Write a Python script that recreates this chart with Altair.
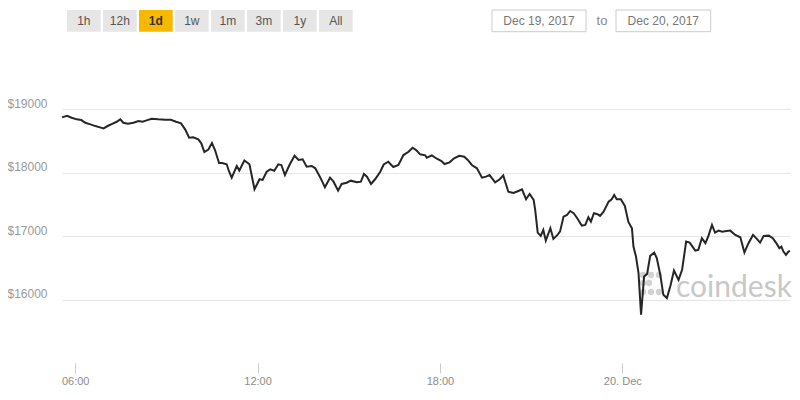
import altair as alt
import pandas as pd

# ---------------- data ----------------
day1 = "2017-12-19T"
day2 = "2017-12-20T"
times_dec19 = [
    "05:34", "05:44", "05:53", "06:03", "06:12", "06:20", "06:30", "06:40", "06:49", "06:56",
    "07:05", "07:12", "07:22", "07:29", "07:35", "07:44", "07:55", "08:05", "08:13", "08:21",
    "08:31", "08:44", "08:58", "09:09", "09:19", "09:29", "09:37", "09:45", "09:53", "10:03",
    "10:09", "10:15", "10:23", "10:30", "10:36", "10:44", "10:50", "10:59", "11:04", "11:09",
    "11:19", "11:24", "11:34", "11:44", "11:54", "12:04", "12:10", "12:18", "12:25", "12:33",
    "12:41", "12:47", "12:54", "13:03", "13:13", "13:21", "13:29", "13:37", "13:47", "13:54",
    "14:04", "14:13", "14:23", "14:30", "14:39", "14:46", "14:56", "15:04", "15:16", "15:24",
    "15:30", "15:36", "15:44", "15:52", "16:02", "16:09", "16:18", "16:28", "16:38", "16:48",
    "16:58", "17:06", "17:13", "17:21", "17:31", "17:34", "17:44", "17:54", "18:03", "18:09",
    "18:19", "18:28", "18:38", "18:48", "18:55", "19:03", "19:13", "19:23", "19:31", "19:38",
    "19:49", "19:58", "20:05", "20:15", "20:25", "20:35", "20:42", "20:50", "20:57", "21:05",
    "21:08", "21:13", "21:19", "21:24", "21:29", "21:38", "21:44", "21:52", "21:57", "22:04",
    "22:11", "22:17", "22:24", "22:31", "22:40", "22:47", "22:53", "22:58", "23:04", "23:11",
    "23:16", "23:23", "23:33", "23:39", "23:44", "23:49", "23:57",
]
prices_dec19 = [
    18874, 18899, 18868, 18843, 18832, 18789, 18764, 18737, 18717, 18701,
    18742, 18769, 18805, 18843, 18789, 18773, 18789, 18816, 18805, 18827,
    18852, 18843, 18836, 18836, 18805, 18780, 18685, 18553, 18559, 18528,
    18465, 18328, 18367, 18469, 18359, 18154, 18154, 18135, 18017, 17923,
    18107, 18036, 18194, 18134, 17740, 17898, 17887, 18017, 18055, 18033,
    18134, 18123, 17965, 18123, 18269, 18202, 18213, 18096, 18107, 18071,
    17923, 17772, 17923, 17860, 17718, 17824, 17844, 17876, 17850, 17860,
    17981, 17939, 17824, 17898, 18013, 18131, 18175, 18091, 18123, 18280,
    18332, 18395, 18359, 18291, 18276, 18238, 18276, 18222, 18186, 18139,
    18165, 18228, 18269, 18254, 18202, 18123, 18071, 17923, 17939, 17965,
    17850, 17898, 17957, 17702, 17682, 17713, 17740, 17583, 17666, 17572,
    17414, 17057, 17005, 17099, 16931, 17126, 16957, 17020, 17072, 17309,
    17335, 17398, 17362, 17283, 17167, 17178, 17299, 17230, 17362, 17346,
    17320, 17387, 17545, 17583, 17650, 17584, 17583,
]
times_dec20 = [
    "00:05", "00:12", "00:19", "00:22", "00:27", "00:32", "00:37", "00:43", "00:49", "00:55",
    "01:03", "01:08", "01:15", "01:21", "01:28", "01:35", "01:42", "01:51", "01:58", "02:06",
    "02:13", "02:24", "02:30", "02:37", "02:44", "02:50", "02:57", "03:03", "03:10", "03:17",
    "03:26", "03:33", "03:43", "03:53", "04:01", "04:09", "04:18", "04:26", "04:32", "04:39",
    "04:49", "04:57", "05:05", "05:10", "05:14", "05:18", "05:23", "05:28", "05:31",
]
prices_dec20 = [
    17477, 17225, 17126, 16836, 16679, 16417, 15761, 16364, 16406, 16690,
    16742, 16654, 16391, 16076, 16024, 16217, 16458, 16312, 16469, 16915,
    16899, 16773, 16784, 16969, 16890, 17005, 17178, 17057, 17088, 17072,
    17083, 17088, 17020, 16984, 16742, 16890, 17020, 16953, 16899, 17005,
    17009, 16969, 16879, 16811, 16836, 16757, 16706, 16757, 16768,
]

x_tick_times = ["2017-12-19T06:00", "2017-12-19T12:00", "2017-12-19T18:00", "2017-12-20T00:00"]
y_tick_values = [16000, 17000, 18000, 19000]
y_domain = [15000, 20000]
range_buttons = ["1h", "12h", "1d", "1w", "1m", "3m", "1y", "All"]
active_button = "1d"
date_from = "Dec 19, 2017"
date_to = "Dec 20, 2017"
date_sep = "to"
watermark_text = "coindesk"

# ---------------- build tables ----------------
times = [day1 + t for t in times_dec19] + [day2 + t for t in times_dec20]
prices = prices_dec19 + prices_dec20
df = pd.DataFrame({"time": times, "price": prices})


def to_dt(s):
    ts = pd.Timestamp(s)
    return alt.DateTime(year=ts.year, month=ts.month, date=ts.day,
                        hours=ts.hour, minutes=ts.minute)


FONT = "Liberation Sans"

x_label_expr = ("hours(datum.value) == 0 && minutes(datum.value) == 0 ? "
                "date(datum.value) + '. ' + timeFormat(datum.value, '%b') : "
                "timeFormat(datum.value, '%H:%M')")

line = alt.Chart(df).mark_line(color="#262626", strokeWidth=2).encode(
    x=alt.X("time:T",
            scale=alt.Scale(domain=[to_dt(times[0]), to_dt(times[-1])], nice=False),
            axis=alt.Axis(title=None, values=[to_dt(t) for t in x_tick_times],
                          labelExpr=x_label_expr, domain=False, grid=False,
                          ticks=True, tickSize=10, tickColor="#cccccc",
                          labelColor="#8c8c8c", labelFontSize=11, labelFont=FONT,
                          labelPadding=2, labelFlush=False, labelOverlap=False)),
    y=alt.Y("price:Q",
            scale=alt.Scale(domain=y_domain, nice=False, zero=False),
            axis=alt.Axis(title=None, values=y_tick_values,
                          labelExpr="'$' + datum.value", grid=True,
                          gridColor="#e6e6e6", gridWidth=1, domain=False,
                          ticks=False, tickSize=0, labelAlign="left",
                          labelBaseline="middle", labelPadding=55, labelOffset=-6,
                          labelFontSize=12, labelColor="#999999", labelFont=FONT)),
)

# ---------------- watermark (decoration) ----------------
wm_color = "#d2d2d2"
icon_dots = pd.DataFrame({"px": [581, 589, 597, 581, 587, 581, 589, 597],
                          "py": [229, 229, 229, 237, 237, 246, 246, 246]})
wm_icon = alt.Chart(icon_dots).mark_circle(color=wm_color, size=40, opacity=1).encode(
    x=alt.X("px:Q", scale=None, axis=None), y=alt.Y("py:Q", scale=None, axis=None))
wm_text = alt.Chart(pd.DataFrame({"t": [watermark_text]})).mark_text(
    font="Lato", fontSize=30, color="#c8c8c8", align="left", baseline="alphabetic"
).encode(x=alt.value(614), y=alt.value(251), text="t:N")

# ---------------- range buttons & date inputs (UI chrome) ----------------
btn_rows = []
for i, lab in enumerate(range_buttons):
    x0 = 5 + 36 * i
    btn_rows.append({"label": lab, "x0": x0, "x1": x0 + 33.7, "xc": x0 + 16.85,
                     "fill": "#f9b800" if lab == active_button else "#e6e6e6",
                     "active": lab == active_button})
btn_df = pd.DataFrame(btn_rows)

btn_rect = alt.Chart(btn_df).mark_rect().encode(
    x=alt.X("x0:Q", scale=None, axis=None), x2="x1:Q",
    y=alt.value(-36), y2=alt.value(-14.3),
    fill=alt.Fill("fill:N", scale=None),
)
btn_text = alt.Chart(btn_df).transform_filter("!datum.active").mark_text(
    font=FONT, fontSize=12, color="#555555", align="center", baseline="middle"
).encode(x=alt.X("xc:Q", scale=None, axis=None), y=alt.value(-25), text="label:N")
btn_text_active = alt.Chart(btn_df).transform_filter("datum.active").mark_text(
    font=FONT, fontSize=12, fontWeight="bold", color="#333333", align="center",
    baseline="middle"
).encode(x=alt.X("xc:Q", scale=None, axis=None), y=alt.value(-25), text="label:N")

date_df = pd.DataFrame({"label": [date_from, date_to], "x0": [430, 554],
                        "x1": [524, 648.7], "xc": [477, 601.3]})
date_rect = alt.Chart(date_df).mark_rect(fill="white", stroke="#cccccc", strokeWidth=1).encode(
    x=alt.X("x0:Q", scale=None, axis=None), x2="x1:Q",
    y=alt.value(-36), y2=alt.value(-14.3),
)
date_text = alt.Chart(date_df).mark_text(
    font=FONT, fontSize=12, color="#777777", align="center", baseline="middle"
).encode(x=alt.X("xc:Q", scale=None, axis=None), y=alt.value(-25), text="label:N")
sep_text = alt.Chart(pd.DataFrame({"t": [date_sep]})).mark_text(
    font=FONT, fontSize=13, color="#888888", align="center", baseline="middle"
).encode(x=alt.value(540), y=alt.value(-25), text="t:N")

chart = alt.layer(
    wm_icon, wm_text,
    line,
    btn_rect, btn_text, btn_text_active, date_rect, date_text, sep_text,
).properties(
    width=728, height=317,
    padding={"left": 54, "top": 38, "right": 2, "bottom": 25},
    autosize=alt.AutoSizeParams(type="none"),
    background="white",
).configure_view(stroke=None)

chart.save("out.html", embed_options={"renderer": "svg", "actions": False})
